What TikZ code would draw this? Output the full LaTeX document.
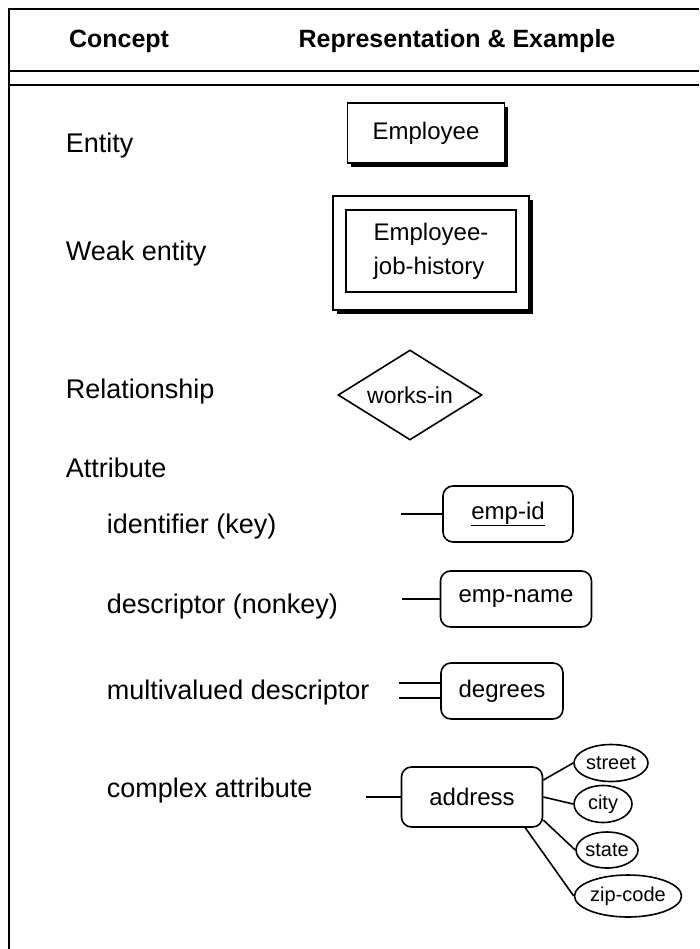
\documentclass[tikz,border=0pt]{standalone}
\usepackage{fontspec}
\setmainfont{Liberation Sans}
\usetikzlibrary{positioning,shapes.geometric,shadows}

\begin{document}
\begin{tikzpicture}[x=1pt, y=-1pt, line width=1.6pt,
    hdr/.style={anchor=base, inner sep=0pt, font=\fontsize{25}{30}\selectfont\bfseries},
    lbl/.style={anchor=base west, inner sep=0pt, font=\fontsize{27}{32}\selectfont},
    ent/.style={draw, fill=white, inner sep=0pt, font=\fontsize{24}{29}\selectfont,
        drop shadow={shadow xshift=3.5pt, shadow yshift=-4pt, fill=black, opacity=1}},
    attr/.style={draw, rounded corners=10pt, inner sep=0pt, font=\fontsize{24}{29}\selectfont},
    part/.style={draw, ellipse, inner sep=0pt, font=\fontsize{20}{24}\selectfont}]
    \useasboundingbox (0,0) rectangle (699,949);
    % table frame
    \draw (9,949) -- (9,9) -- (699,9);
    \draw (9,71) -- (699,71) (9,85) -- (699,85);
    \node[hdr] (concept) at (119,48) {Concept};
    \node[hdr] (repr) at (457,48) {Representation \& Example};
    % concepts
    \node[lbl] (entity) at (65,153) {Entity};
    \node[lbl] (weak) at (65,261) {Weak entity};
    \node[lbl] (rship) at (65,398) {Relationship};
    \node[lbl] (attrib) at (65,477) {Attribute};
    \node[lbl] (ident) at (106,533) {identifier (key)};
    \node[lbl] (descr) at (106,613) {descriptor (nonkey)};
    \node[lbl] (multi) at (106,699) {multivalued descriptor};
    \node[lbl] (cmplx) at (106,797) {complex attribute};
    % representations
    \node[ent, minimum width=157pt, minimum height=60pt] (emp) at (426,133) {Employee};
    \node[ent, minimum width=196pt, minimum height=114pt] (wkout) at (431,253) {};
    \node[draw, minimum width=170pt, minimum height=82pt, inner sep=0pt, align=left,
        font=\fontsize{24}{34}\selectfont] (wk) at (431,251) {Employee-\\job-history};
    \node[draw, diamond, aspect=1.6, minimum width=144pt, minimum height=90pt, inner sep=0pt,
        font=\fontsize{23}{27}\selectfont] (works) at (410,395) {works-in};
    \node[attr, minimum width=130pt, minimum height=56pt] (empid) at (508,514) {\underline{emp-id}};
    \node[attr, minimum width=151pt, minimum height=56pt] (empname) at (516,599) {emp-name};
    \node[attr, minimum width=122pt, minimum height=56pt] (degrees) at (502,691) {degrees};
    \node[attr, minimum width=141pt, minimum height=60pt] (address) at (472,797) {address};
    \node[part, minimum width=74pt, minimum height=37pt] (street) at (611,763) {street};
    \node[part, minimum width=58pt, minimum height=37pt] (city) at (603,804) {city};
    \node[part, minimum width=62pt, minimum height=36pt] (state) at (607,850) {state};
    \node[part, minimum width=107pt, minimum height=42pt] (zip) at (628,896) {zip-code};
    % attribute lines
    \coordinate[left=41pt of empid] (kid);
    \coordinate[left=38pt of empname] (kname);
    \coordinate (mv1) at ([xshift=-41pt, yshift=8pt]degrees.west);
    \coordinate (mv2) at ([xshift=-41pt, yshift=-7pt]degrees.west);
    \coordinate[left=35pt of address] (kaddr);
    \draw (kid) -- (empid.west);
    \draw (kname) -- (empname.west);
    \draw (mv1) -- ([yshift=8pt]degrees.west) (mv2) -- ([yshift=-7pt]degrees.west);
    \draw (kaddr) -- (address.west);
    \draw ([yshift=17pt]address.east) -- (street.west);
    \draw (address.east) -- (city.west);
    \draw ([yshift=-23pt]address.east) -- (state.west);
    \draw ([xshift=-18pt]address.south east) -- (zip.west);
\end{tikzpicture}
\end{document}
